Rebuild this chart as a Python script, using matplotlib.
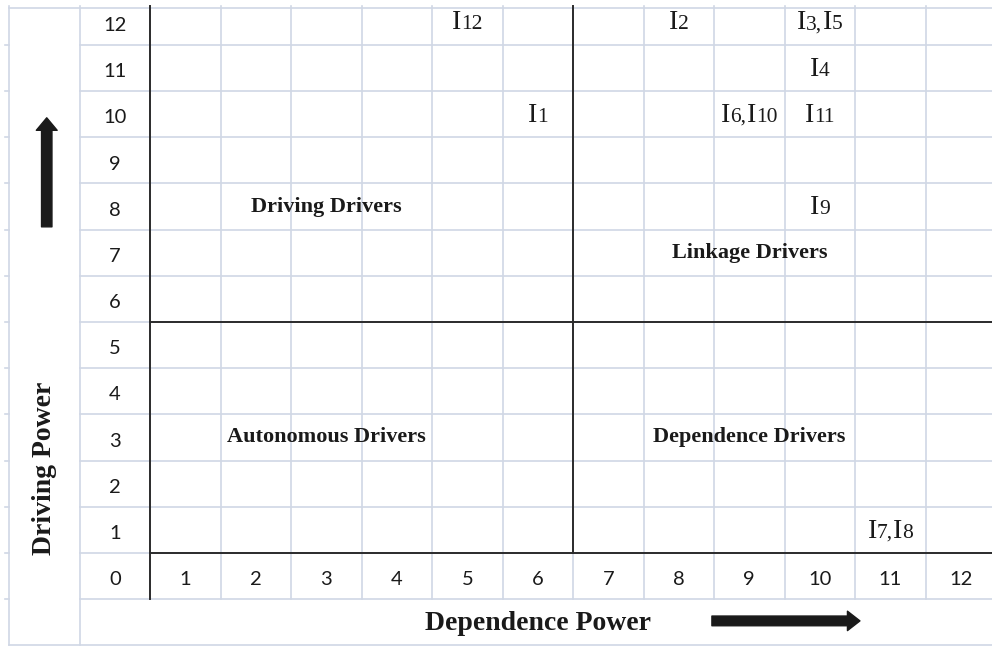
import matplotlib
matplotlib.use("Agg")
import matplotlib.pyplot as plt
from matplotlib.offsetbox import TextArea, HPacker, AnnotationBbox

# items of the MICMAC analysis: dependence power (x) and driving power (y)
items = ["1", "2", "3", "4", "5", "6", "7", "8", "9", "10", "11", "12"]
dependence = [6, 8, 10, 10, 10, 9, 11, 11, 10, 9, 10, 5]
driving = [10, 12, 12, 11, 12, 10, 1, 1, 8, 10, 10, 12]

# quadrant names and the cell they are written in
quadrants = ["Driving Drivers", "Linkage Drivers", "Autonomous Drivers", "Dependence Drivers"]
quad_x = [3, 9, 3, 9]
quad_y = [8, 7, 3, 3]

ticks = list(range(0, 13))
x_title = "Dependence Power"
y_title = "Driving Power"

grid_col = "#d0d7e5"
dark = "#2b2b2b"
ink = "#1a1a1a"
serif = "Liberation Serif"

fig = plt.figure(figsize=(9.92, 6.47), dpi=100)
ax = fig.add_axes([0, 0, 1, 1])
ax.set_xlim(-1.628, 12.443)
ax.set_ylim(-1.535, 12.47)
ax.axis("off")

top = 12.3
right = 12.443
mid = 6.5    # split between low and high dependence
hmid = 5.5   # split between low and high driving power

# light spreadsheet grid
for xv in [c + 0.5 for c in range(0, 12)]:
    ax.plot([xv, xv], [-0.5, top + 0.03], color=grid_col, lw=1.2, zorder=1)
for xv in [-1.5, -0.5]:
    ax.plot([xv, xv], [-1.5, top + 0.03], color=grid_col, lw=1.2, zorder=1)
for yv in [r + 0.5 for r in range(-1, 12)]:
    ax.plot([-0.5, right], [yv, yv], color=grid_col, lw=1.2, zorder=1)
    ax.plot([-1.56, -1.5], [yv, yv], color=grid_col, lw=1.2, zorder=1)
ax.plot([-1.5, right], [-1.5, -1.5], color=grid_col, lw=1.2, zorder=1)
ax.plot([-1.5, right], [top, top], color=grid_col, lw=1.2, zorder=1)

# dark axes and quadrant dividers
ax.plot([0.5, 0.5], [-0.5, top + 0.03], color=dark, lw=1.4, zorder=2)
ax.plot([0.5, right], [0.5, 0.5], color=dark, lw=1.4, zorder=2)
ax.plot([mid, mid], [0.5, top + 0.03], color=dark, lw=1.4, zorder=2)
ax.plot([0.5, right], [hmid, hmid], color=dark, lw=1.4, zorder=2)

# row and column numbers
for t in ticks:
    ax.text(0, t - 0.08, str(t), ha="center", va="center", fontsize=14.5,
            family="Lato", color=ink)
for t in ticks[1:]:
    ax.text(t, -0.08, str(t), ha="center", va="center", fontsize=14.5,
            family="Lato", color=ink)

# item labels, several items in one cell are joined with a comma
cells = {}
for name, dx, dy in zip(items, dependence, driving):
    cells.setdefault((dx, dy), []).append(name)

big = dict(family=serif, fontsize=20, color=ink)
small = dict(family=serif, fontsize=15.5, color=ink)
for (dx, dy), names in cells.items():
    parts = []
    for i, n in enumerate(names):
        parts.append(TextArea("I", textprops=big))
        parts.append(TextArea(n + ("," if i < len(names) - 1 else ""), textprops=small))
    box = HPacker(children=parts, align="baseline", pad=0, sep=0)
    ab = AnnotationBbox(box, (dx, dy - 0.07), xycoords="data", frameon=False,
                        box_alignment=(0.5, 0.42), pad=0)
    ax.add_artist(ab)

# quadrant names
for name, qx, qy in zip(quadrants, quad_x, quad_y):
    ax.text(qx, qy, name, ha="center", va="center", fontsize=16,
            family=serif, weight="bold", color=ink)

# axis titles and arrows
ax.text(6, -1.02, x_title, ha="center", va="center", fontsize=20,
        family=serif, weight="bold", color=ink)
ax.text(-1.0, 2.33, y_title, ha="center", va="center", fontsize=20,
        family=serif, weight="bold", color=ink, rotation=90)

ax.annotate("", xy=(10.57, -0.97), xytext=(8.47, -0.97),
            arrowprops=dict(arrowstyle="simple,head_length=9,head_width=14,tail_width=7",
                            color=ink, mutation_scale=1, shrinkA=0, shrinkB=0))
ax.annotate("", xy=(-0.965, 9.92), xytext=(-0.965, 7.56),
            arrowprops=dict(arrowstyle="simple,head_length=9,head_width=15,tail_width=7.5",
                            color=ink, mutation_scale=1, shrinkA=0, shrinkB=0))

fig.savefig("out.png", dpi=100, facecolor="white")
